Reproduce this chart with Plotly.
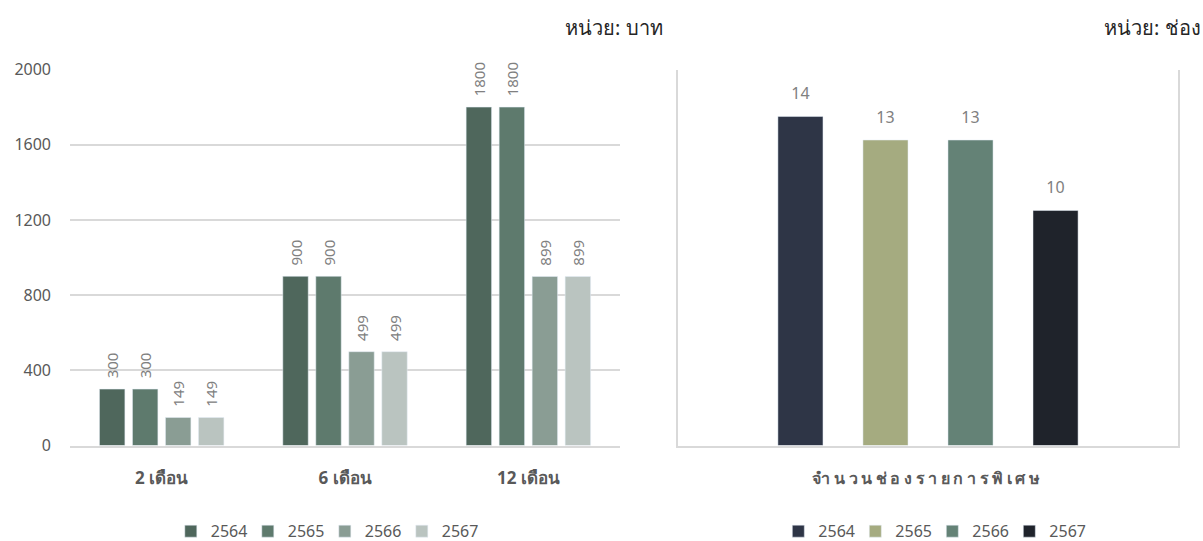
import plotly.graph_objects as go

# ---- data ----
durations = ["2 เดือน", "6 เดือน", "12 เดือน"]
years = ["2564", "2565", "2566", "2567"]
price_2564 = [300, 900, 1800]
price_2565 = [300, 900, 1800]
price_2566 = [149, 499, 899]
price_2567 = [149, 499, 899]
price_series = [price_2564, price_2565, price_2566, price_2567]

channel_title = "จำนวนช่องรายการพิเศษ"
channels = [14, 13, 13, 10]

left_colors = ["#4F675C", "#5E7A6D", "#8A9D94", "#BAC4C0"]
right_colors = ["#2E3546", "#A5AB80", "#648276", "#1F232B"]

FONT = "Noto Sans, Leelawadee UI, Tahoma, sans-serif"
GREY = "#595959"
LABEL_GREY = "#808080"
LINE = "#D9D9D9"

fig = go.Figure()

# left chart: grouped bars with rotated labels
for yr, vals, col in zip(years, price_series, left_colors):
    fig.add_trace(go.Bar(
        x=durations, y=vals, name=yr, marker_color=col,
        text=["\u00a0\u00a0" + str(v) for v in vals],
        textposition="outside", textangle=-90,
        textfont=dict(color=LABEL_GREY, size=15, family=FONT),
        cliponaxis=False, constraintext="none",
        hoverinfo="x+y+name",
        xaxis="x", yaxis="y", legend="legend",
    ))

# right chart: one bar per year sharing one offset group
for yr, val, col in zip(years, channels, right_colors):
    fig.add_trace(go.Bar(
        x=[yr], y=[val], name=yr, marker_color=col,
        width=0.53, offsetgroup="r",
        xaxis="x2", yaxis="y2", legend="legend2",
    ))

# right chart value labels (text-only scatter above each bar)
fig.add_trace(go.Scatter(
    x=years, y=channels, mode="markers+text",
    text=[str(v) for v in channels], textposition="top center",
    textfont=dict(color=LABEL_GREY, size=16, family=FONT),
    marker=dict(size=20, opacity=0),
    showlegend=False, hoverinfo="skip", cliponaxis=False,
    xaxis="x2", yaxis="y2",
))

y_dom = [0.1765, 0.8715]

fig.update_layout(
    width=1203, height=541,
    margin=dict(l=0, r=0, t=0, b=0, autoexpand=False),
    paper_bgcolor="white", plot_bgcolor="white",
    font=dict(family=FONT, color=GREY, size=15),
    barmode="group", bargap=0.28, bargroupgap=0.23,
    xaxis=dict(domain=[0.0582, 0.5154], type="category",
               showline=True, linecolor=LINE, linewidth=2,
               showgrid=False, ticks="", ticklabelstandoff=16,
               automargin=False,
               tickfont=dict(size=17, color=GREY, family=FONT, weight="bold")),
    yaxis=dict(domain=y_dom, range=[0, 2000], dtick=400, tick0=0,
               showgrid=True, gridcolor=LINE, gridwidth=1.5,
               zeroline=False, showline=False, ticks="",
               ticklabelstandoff=18, automargin=False,
               tickfont=dict(size=16, color=GREY, family=FONT)),
    xaxis2=dict(domain=[0.5636, 0.9792], type="category",
                categoryorder="array", categoryarray=years,
                range=[-1.44, 4.44], anchor="y2",
                showline=True, linecolor=LINE, linewidth=2,
                showgrid=False, ticks="", showticklabels=False,
                automargin=False,
                title=dict(text="<span style='letter-spacing:3.6px'>" + channel_title + "</span>",
                           standoff=26,
                           font=dict(size=16, color=GREY, family=FONT, weight="bold"))),
    yaxis2=dict(domain=y_dom, range=[0, 16], anchor="x2",
                showgrid=False, zeroline=False, showticklabels=False,
                showline=True, mirror=True, linecolor=LINE, linewidth=2,
                ticks="", automargin=False),
    legend=dict(orientation="h", x=0.27, xanchor="center", y=0.018, yanchor="middle",
                font=dict(size=16, color=GREY, family=FONT),
                entrywidth=32, itemwidth=30,
                bgcolor="rgba(0,0,0,0)", traceorder="normal"),
    legend2=dict(orientation="h", x=0.775, xanchor="center", y=0.018, yanchor="middle",
                 font=dict(size=16, color=GREY, family=FONT),
                 entrywidth=32, itemwidth=30,
                 bgcolor="rgba(0,0,0,0)", traceorder="normal"),
    showlegend=True,
    annotations=[
        dict(text="หน่วย: บาท", xref="paper", yref="paper", x=0.553, y=0.95,
             xanchor="right", yanchor="middle", showarrow=False,
             font=dict(size=20, color="#262626", family=FONT, weight="normal")),
        dict(text="หน่วย: ช่อง", xref="paper", yref="paper", x=1.0, y=0.95,
             xanchor="right", yanchor="middle", showarrow=False,
             font=dict(size=20, color="#262626", family=FONT, weight="normal")),
    ],
)

fig.write_html("out.html", config={"displayModeBar": False},
               post_script="document.body.style.margin='0';")
